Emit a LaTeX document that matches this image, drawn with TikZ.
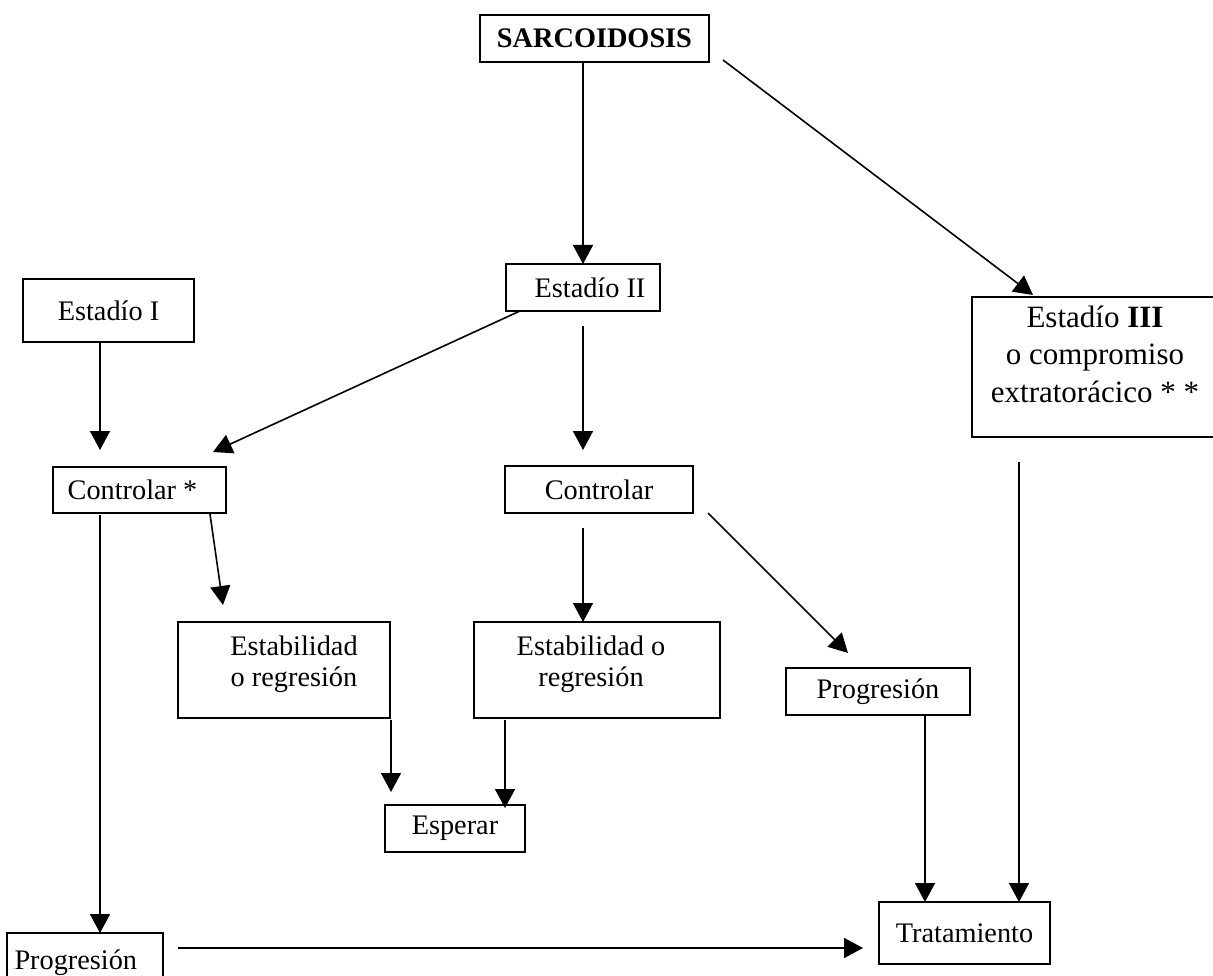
\documentclass[tikz,border=0pt]{standalone}
\usepackage{fontspec}
\setmainfont{Liberation Serif}
\usetikzlibrary{arrows.meta}
\newcommand{\upby}[2]{\raisebox{#1}[\height][\depth]{#2}}
\begin{document}
\begin{tikzpicture}[x=1pt,y=-1pt,
  box/.style={draw, line width=1.5pt, inner sep=0pt, outer sep=0pt, anchor=north west,
    align=center, font=\fontsize{28.3}{31}\selectfont},
  arr/.style={line width=1.6pt, -{Triangle[length=19pt,width=20pt]}}]
\useasboundingbox (0,0) rectangle (1213,976);

% boxes
\node[box, minimum width=229pt, minimum height=47pt] (sar) at (480,15) {\textbf{SARCOIDOSIS}};
\node[box, minimum width=154pt, minimum height=47pt] (e2) at (506,264) {\hspace*{14pt}Estadío II};
\node[box, minimum width=171pt, minimum height=63pt] (e1) at (23,279) {Estadío I};
\node[box, minimum width=246pt, minimum height=140pt, font=\fontsize{31}{38}\selectfont] (e3) at (972,297)
  {\upby{10pt}{\begin{tabular}{@{}c@{}}Estadío \textbf{III}\\[-0.5pt] o compromiso\\[-0.5pt] extratorácico * *\end{tabular}}};
\node[box, minimum width=173pt, minimum height=46pt] (cs) at (53,467) {\hspace*{-14pt}Controlar *};
\node[box, minimum width=188pt, minimum height=47pt] (c2) at (505,466) {Controlar};
\node[box, minimum width=212pt, minimum height=96pt] (sl) at (178,622) {\upby{5pt}{\begin{tabular}{@{}c@{}}Estabilidad\\ o regresión\end{tabular}}\hspace*{-20pt}};
\node[box, minimum width=246pt, minimum height=96pt] (sm) at (474,622) {\upby{5pt}{\begin{tabular}{@{}c@{}}Estabilidad o\\ regresión\end{tabular}}\hspace*{12pt}};
\node[box, minimum width=184pt, minimum height=47pt] (pr) at (786,668) {Progresión};
\node[box, minimum width=140pt, minimum height=47pt] (es) at (385,805) {Esperar};
\node[box, minimum width=171pt, minimum height=62pt] (tr) at (879,902) {Tratamiento};
\node[box, minimum width=156pt, minimum height=60pt, inner xsep=6pt, text width=144pt, align=left] (pl) at (7,933)
  {{\fontsize{6}{6}\selectfont .}Progresión};

% connector ends
\coordinate (a1) at (583,62);
\coordinate (a2s) at (723,60);
\coordinate (a2e) at (1033,295);
\coordinate (a3) at (100,342);
\coordinate (a4s) at (520,311);
\coordinate (a4e) at (213,452);
\coordinate (a5) at (583,326);
\coordinate (a6) at (100,515);
\coordinate (a7s) at (210,514);
\coordinate (a7e) at (223,605);
\coordinate (a8) at (583,528);
\coordinate (a9s) at (708,513);
\coordinate (a9e) at (848,653);
\coordinate (a10s) at (391,720);
\coordinate (a10e) at (391,792);
\coordinate (a11s) at (505,720);
\coordinate (a11e) at (505,808);
\coordinate (a12) at (925,715);
\coordinate (a13) at (1019,462);
\coordinate (a14s) at (178,948);
\coordinate (a14e) at (863,948);

\draw[arr] (a1) -- (a1 |- e2.north);
\draw[arr] (a2s) -- (a2e);
\draw[arr] (a3) -- (100,450);
\draw[arr] (a4s) -- (a4e);
\draw[arr] (a5) -- (583,450);
\draw[arr] (a6) -- (a6 |- pl.north);
\draw[arr] (a7s) -- (a7e);
\draw[arr] (a8) -- (a8 |- sm.north);
\draw[arr] (a9s) -- (a9e);
\draw[arr] (a10s) -- (a10e);
\draw[arr] (a11s) -- (a11e);
\draw[arr] (a12) -- (a12 |- tr.north);
\draw[arr] (a13) -- (a13 |- tr.north);
\draw[arr] (a14s) -- (a14e);
\end{tikzpicture}
\end{document}
